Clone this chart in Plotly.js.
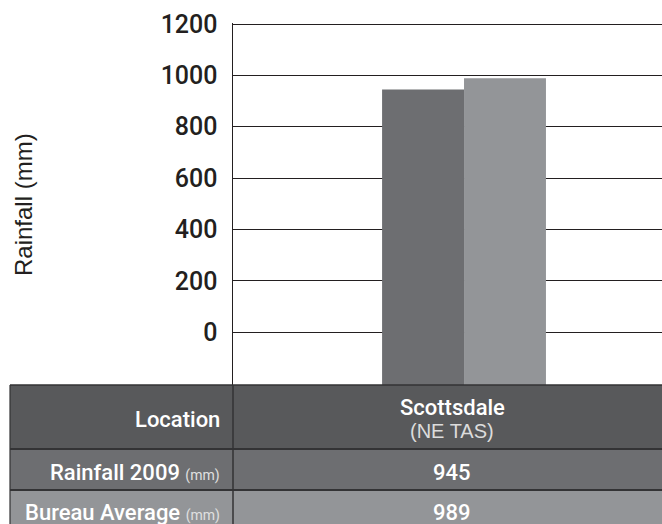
<!DOCTYPE html>
<html>
<head>
<meta charset="utf-8">
<script src="https://cdn.plot.ly/plotly-3.0.1.min.js"></script>
<style>
html,body{margin:0;padding:0;background:#fff;}
#chart{width:662px;height:524px;}
</style>
</head>
<body>
<div id="chart"></div>
<script>
// ---- data ----
const categories = ['Scottsdale'];
const locationSub = ['(NE TAS)'];
const rainfall2009 = [945];
const bureauAverage = [989];
const yTickVals = [0, 200, 400, 600, 800, 1000, 1200];
const yTickText = ['0', '200', '400', '600', '800', '1000', '1200'];
const rowLabels = ['Location', 'Rainfall 2009', 'Bureau Average'];
const rowUnit = '(mm)';
const yTitle = 'Rainfall (mm)';

// ---- layout helpers ----
const W = 662, H = 524;
const M = {l: 233, r: 0, t: 23, b: 139};
const PW = W - M.l - M.r, PH = H - M.t - M.b;
const px = v => (v - M.l) / PW;
const py = v => (H - M.b - v) / PH;
const YMIN = -206, YMAX = 1204;

const FONT = 'Liberation Sans, Arial, Helvetica, sans-serif';
const FONT_M = 'Roboto, Liberation Sans, Arial, sans-serif';
const C_HEAD = '#58595b', C_DARK = '#6d6e71', C_LIGHT = '#939598';

const traces = [
  {type: 'bar', x: categories, y: rainfall2009.map(v => v - YMIN), base: YMIN,
   marker: {color: C_DARK, line: {width: 0}}, name: rowLabels[1], hoverinfo: 'skip'},
  {type: 'bar', x: categories, y: bureauAverage.map(v => v - YMIN), base: YMIN,
   marker: {color: C_LIGHT, line: {width: 0}}, name: rowLabels[2], hoverinfo: 'skip'}
];

const TL = 10, TR = 662, COL = 233;
const rows = [[385, 449, C_HEAD], [449, 490, C_DARK], [490, 531, C_LIGHT]];
const shapes = [];
rows.forEach(r => {
  shapes.push({type: 'rect', xref: 'paper', yref: 'paper', x0: px(TL), x1: px(TR), y0: py(r[0]), y1: py(r[1]),
    fillcolor: r[2], line: {width: 0}, layer: 'above'});
});
[[385, 1.5], [449, 2], [490, 2]].forEach(l => {
  shapes.push({type: 'line', xref: 'paper', yref: 'paper', x0: px(TL), x1: px(TR), y0: py(l[0]), y1: py(l[0]),
    line: {color: '#333335', width: l[1]}, layer: 'above'});
});
[[TL, 1.2], [COL, 1.5]].forEach(l => {
  shapes.push({type: 'line', xref: 'paper', yref: 'paper', x0: px(l[0]), x1: px(l[0]), y0: py(385), y1: py(531),
    line: {color: '#333335', width: l[1]}, layer: 'above'});
});

const unitSpan = ' <span style="font-size:14px;font-weight:400;color:#e0e0e0">' + rowUnit + '</span>';
const ann = (text, x, y, xanchor, size, color, extra) => Object.assign({
  text: text, xref: 'paper', yref: 'paper', x: px(x), y: py(y), xanchor: xanchor, yanchor: 'middle',
  showarrow: false, font: {family: FONT_M, size: size, color: color, weight: 500}
}, extra || {});

const annotations = [
  ann(yTitle, 24, 205, 'center', 24, '#231f20', {textangle: -90, font: {family: FONT, size: 24, color: '#231f20'}}),
  ann(rowLabels[0], 222, 419, 'right', 22, '#ffffff'),
  ann(rowLabels[1] + unitSpan, 222, 472, 'right', 22, '#ffffff'),
  ann(rowLabels[2] + unitSpan, 222, 512, 'right', 22, '#ffffff'),
  ann(categories[0], 452, 407, 'center', 22, '#ffffff'),
  ann(locationSub[0], 452, 431, 'center', 20, '#dcdcdc', {font: {family: FONT, size: 20, color: '#dcdcdc'}}),
  ann(String(rainfall2009[0]), 452, 472, 'center', 22, '#ffffff'),
  ann(String(bureauAverage[0]), 452, 512, 'center', 22, '#ffffff')
];

const layout = {
  width: W, height: H,
  margin: M,
  paper_bgcolor: '#ffffff', plot_bgcolor: '#ffffff',
  showlegend: false,
  barmode: 'group', bargap: 0.618, bargroupgap: 0,
  font: {family: FONT, color: '#231f20'},
  xaxis: {type: 'category', range: [-0.5385, 0.4615], showticklabels: false, showgrid: false,
          zeroline: false, showline: false, fixedrange: true},
  yaxis: {range: [YMIN, YMAX], tickmode: 'array', tickvals: yTickVals, ticktext: yTickText,
          showgrid: true, gridcolor: '#231f20', gridwidth: 1, zeroline: false,
          showline: true, linecolor: '#231f20', linewidth: 1.5,
          ticks: 'outside', ticklen: 9, tickcolor: 'rgba(0,0,0,0)',
          tickfont: {family: FONT_M, size: 25, color: '#231f20', weight: 500}, fixedrange: true},
  shapes: shapes,
  annotations: annotations
};

Plotly.newPlot('chart', traces, layout, {displayModeBar: false, staticPlot: true});
</script>
</body>
</html>
